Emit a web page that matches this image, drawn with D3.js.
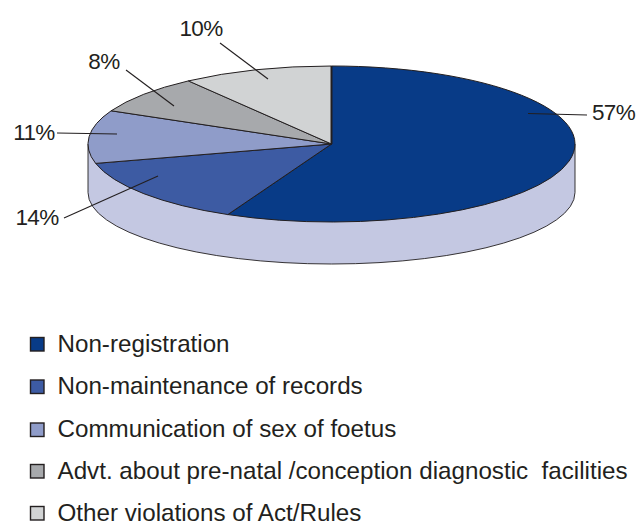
<!DOCTYPE html>
<html>
<head>
<meta charset="utf-8">
<script src="https://cdn.jsdelivr.net/npm/d3@7/dist/d3.min.js"></script>
<style>
html,body{margin:0;padding:0;background:#fff}
svg{display:block}
text{font-family:"Liberation Sans",Arial,sans-serif;fill:#231f20}
</style>
</head>
<body>
<svg id="chart" width="636" height="522"></svg>
<script>
const categories = ["Non-registration","Non-maintenance of records","Communication of sex of foetus","Advt. about pre-natal /conception diagnostic  facilities","Other violations of Act/Rules"];
const shares = [57,14,11,8,10];
const colors = ["#083b87","#3d5ba3","#8f9cc9","#a7a9ac","#d1d3d4"];
const sideColor = "#c4c8e2";
const ink = "#231f20";

// Layout of the tilted disc; the rim's lower edge is a slightly flatter ellipse
const cx = 331.5, cy = 144, rx = 243.5, ry = 78, depth = 48.5, rimRy = 71.5;

// Callout geometry: label anchor, then the leader's two ends
const labelPos = [[613.5,112],[37,217],[34,132],[104,61],[201,28]];
const leaderFrom = [[587,115],[64,218],[57,133],[126,70],[220,43]];
const leaderTo = [[528,113.5],[158,176],[117,134],[174,106],[268,79]];

const legendX = 57.5, swatchX = 30.5, swatchSize = 13.5;
const legendBase = [351.5,394,437,478.5,520.5];

const svg = d3.select("#chart");
const pie = d3.pie().sort(null).value(d => d)(shares);
const arc = d3.arc().innerRadius(0).outerRadius(rx);

// Rim of the disc: lower half of an ellipse, dropped by the depth
svg.append("path")
  .attr("d", `M${cx-rx},${cy} L${cx-rx},${cy+depth} A${rx},${rimRy} 0 0 0 ${cx+rx},${cy+depth} L${cx+rx},${cy} Z`)
  .attr("fill", sideColor)
  .attr("stroke", ink)
  .attr("stroke-width", 0.9);

// Top face: circular slices squashed into an ellipse
const face = svg.append("g")
  .attr("transform", `translate(${cx},${cy}) scale(1,${ry/rx})`);
face.selectAll("path")
  .data(pie)
  .join("path")
  .attr("d", arc)
  .attr("fill", (d,i) => colors[i])
  .attr("stroke", ink)
  .attr("stroke-width", 1)
  .attr("stroke-linejoin", "round")
  .attr("vector-effect", "non-scaling-stroke");

// Heavier boundary at twelve o'clock
svg.append("line")
  .attr("x1", cx).attr("x2", cx)
  .attr("y1", cy-ry).attr("y2", cy)
  .attr("stroke", ink).attr("stroke-width", 2);

// Leaders and percentage labels
svg.selectAll("line.leader")
  .data(shares)
  .join("line")
  .attr("class", "leader")
  .attr("x1", (d,i) => leaderFrom[i][0])
  .attr("y1", (d,i) => leaderFrom[i][1])
  .attr("x2", (d,i) => leaderTo[i][0])
  .attr("y2", (d,i) => leaderTo[i][1])
  .attr("stroke", ink)
  .attr("stroke-width", 1.1);

svg.selectAll("text.pct")
  .data(shares)
  .join("text")
  .attr("class", "pct")
  .attr("x", (d,i) => labelPos[i][0])
  .attr("y", (d,i) => labelPos[i][1])
  .attr("text-anchor", "middle")
  .attr("dominant-baseline", "central")
  .attr("font-size", 22.5)
  .attr("letter-spacing", -0.6)
  .text(d => d + "%");

// Legend
const legend = svg.selectAll("g.legend")
  .data(categories)
  .join("g")
  .attr("class", "legend")
  .attr("transform", (d,i) => `translate(0,${legendBase[i]})`);
legend.append("rect")
  .attr("x", swatchX)
  .attr("y", -swatchSize - 0.5)
  .attr("width", swatchSize)
  .attr("height", swatchSize)
  .attr("fill", (d,i) => colors[i])
  .attr("stroke", ink)
  .attr("stroke-width", 1.4);
legend.append("text")
  .attr("x", legendX)
  .attr("y", 0)
  .attr("font-size", 24.2)
  .style("white-space", "pre")
  .text(d => d);
</script>
</body>
</html>
